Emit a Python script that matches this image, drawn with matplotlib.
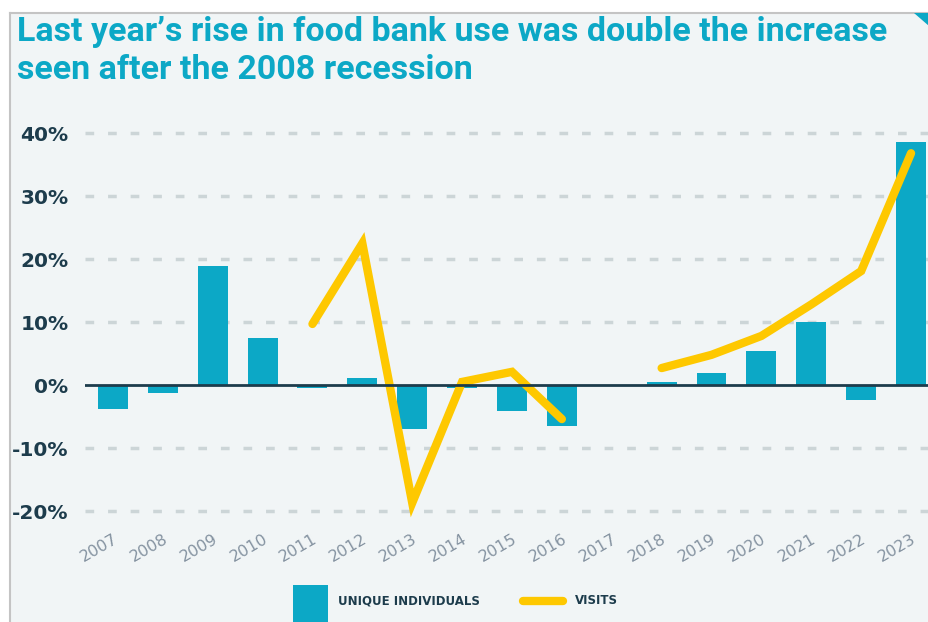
import numpy as np
import matplotlib
matplotlib.use("Agg")
import matplotlib.pyplot as plt
from matplotlib.patches import Polygon, Rectangle
from matplotlib.lines import Line2D

years = ["2007", "2008", "2009", "2010", "2011", "2012", "2013", "2014", "2015",
         "2016", "2017", "2018", "2019", "2020", "2021", "2022", "2023"]
unique_individuals = [-3.8, -1.3, 18.9, 7.5, -0.5, 1.1, -7.0, -0.5, -4.1,
                      -6.5, np.nan, 0.5, 1.9, 5.4, 10.0, -2.4, 38.6]
visits = [np.nan, np.nan, np.nan, np.nan, 9.7, 22.5, -18.7, 0.5, 2.1,
          -5.4, np.nan, 2.7, 4.8, 7.8, 12.8, 18.1, 36.8]
yticks = [-20, -10, 0, 10, 20, 30, 40]

teal = "#0ca8c6"
yellow = "#fec800"
navy = "#1d3c4c"
bg = "#f1f5f6"

W, H = 929, 622
fig = plt.figure(figsize=(W / 100, H / 100), dpi=100)
fig.patch.set_facecolor("white")

# panel background with grey border on left/top
fig.patches.append(Rectangle((10 / W, 0), 1 - 10 / W, 1 - 13 / H, transform=fig.transFigure,
                             facecolor=bg, edgecolor="none", zorder=-5))
fig.lines.append(Line2D([10 / W, 10 / W], [0, 1 - 13 / H], transform=fig.transFigure,
                        color="#c4c4c4", lw=1.5, zorder=-4))
fig.lines.append(Line2D([10 / W, 1], [1 - 13 / H, 1 - 13 / H], transform=fig.transFigure,
                        color="#c4c4c4", lw=1.5, zorder=-4))
fig.patches.append(Polygon([(914 / W, 1 - 13 / H), (1, 1 - 13 / H), (1, 1 - 26 / H)],
                           closed=True, transform=fig.transFigure, facecolor=teal,
                           edgecolor="none", zorder=-4))

ax = fig.add_axes([85 / W, 1 - 520.5 / H, (W - 85) / W, 400 / H])
ax.set_facecolor("none")
x = np.arange(len(years))

ax.bar(x, unique_individuals, width=0.6, color=teal, zorder=2)
ax.plot(x, visits, color=yellow, lw=6, solid_capstyle="round",
        solid_joinstyle="miter", zorder=3)
ax.axhline(0, color=navy, lw=2, zorder=4)

for t in yticks:
    if t != 0:
        ax.axhline(t, color="#ccd5d7", lw=2.5, dashes=(2.5, 4), zorder=1)

ax.set_xlim(-0.56, 16.36)
ax.set_ylim(-21.5, 42)
ax.set_yticks(yticks)
ax.set_yticklabels([f"{t}%" for t in yticks], fontsize=14.5, fontweight="bold", color=navy)
ax.set_xticks(x)
ax.set_xticklabels(years, rotation=30, ha="right", rotation_mode="anchor",
                   fontsize=11.5, color="#8593a1")
ax.tick_params(axis="both", length=0)
ax.tick_params(axis="y", pad=12)
ax.tick_params(axis="x", pad=8)
for s in ax.spines.values():
    s.set_visible(False)

title_font = dict(fontsize=24.5, fontweight="bold", color=teal, ha="left", va="baseline",
                  family=["Roboto", "DejaVu Sans"])
fig.text(17 / W, 1 - 41 / H, "Last year’s rise in food bank use was double the increase", **title_font)
fig.text(17 / W, 1 - 79 / H, "seen after the 2008 recession", **title_font)

# legend
fig.patches.append(Rectangle((293 / W, 0), 35 / W, 37 / H, transform=fig.transFigure,
                             facecolor=teal, edgecolor="none"))
fig.text(338 / W, 1 - 601 / H, "UNIQUE INDIVIDUALS", fontsize=8.5, fontweight="bold",
         color=navy, va="center", ha="left")
fig.lines.append(Line2D([523 / W, 563 / W], [1 - 601 / H, 1 - 601 / H], transform=fig.transFigure,
                        color=yellow, lw=6, solid_capstyle="round"))
fig.text(575 / W, 1 - 601 / H, "VISITS", fontsize=8.5, fontweight="bold",
         color=navy, va="center", ha="left")

fig.savefig("out.png", dpi=100, facecolor=fig.get_facecolor())
